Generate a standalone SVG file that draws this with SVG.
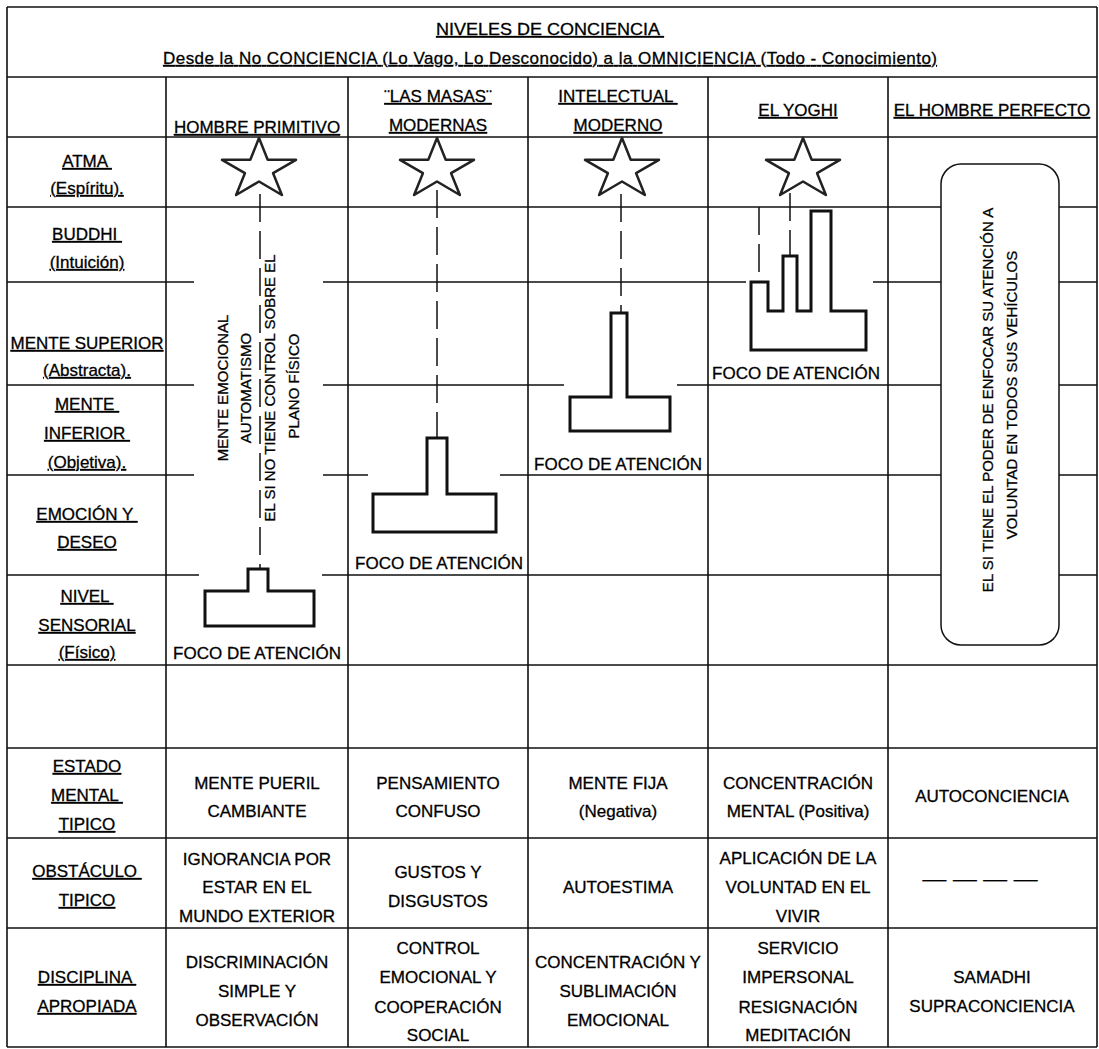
<svg xmlns="http://www.w3.org/2000/svg" xmlns:xlink="http://www.w3.org/1999/xlink" width="1099" height="1049" viewBox="0 0 1099 1049">
<style>
.t{font-family:"Liberation Sans",Arial,sans-serif;font-size:17px;fill:#000;stroke:#000;stroke-width:0.3;text-anchor:middle}
.u{text-decoration:underline}
.v{font-size:15px}
.grid{fill:none;stroke:#111;stroke-width:1.6}
.fig{fill:none;stroke:#111;stroke-width:3}
.dash{fill:none;stroke:#111;stroke-width:1.5;stroke-dasharray:28 9}
.star{fill:none;stroke:#222;stroke-width:2.5;stroke-linejoin:round}
.box{fill:#fff;stroke:#111;stroke-width:1.5}
</style>
<defs>
<path id="star" class="star" d="M37,0L45.7,21.8L74,21.8L51.1,35.2L59.9,57L37,43.5L14.1,57L22.9,35.2L0,21.8L28.3,21.8Z"/>
</defs>
<rect width="1099" height="1049" fill="#fff"/>
<g id="grid">
<path class="grid" d="M7,7H1097M7,77H1097M7,137H1097M7,207H941M1059,207H1097M7,282H194M323,282H746M873,282H941M1059,282H1097M7,385H194M323,385H564M677,385H941M1059,385H1097M7,475H194M323,475H368M500,475H941M1059,475H1097M7,575H199M322,575H941M1059,575H1097M7,665H1097M7,748H1097M7,838H1097M7,928H1097M7,1047H1097M7,7V1047M1097,7V1047M166,77V1047M348,77V1047M528,77V1047M708,77V1047M888,77V1047"/>
</g>
<g id="title">
<text class="t u" x="550" y="35" textLength="228" lengthAdjust="spacingAndGlyphs" xml:space="preserve">NIVELES DE CONCIENCIA </text>
<text class="t u" x="550" y="64" textLength="774" lengthAdjust="spacing">Desde la No CONCIENCIA (Lo Vago, Lo Desconocido) a la OMNICIENCIA (Todo - Conocimiento)</text>
</g>
<g id="header">
<text class="t u" x="257" y="133">HOMBRE PRIMITIVO</text>
<text class="t u" x="438" y="102">¨LAS MASAS¨</text>
<text class="t u" x="438" y="131">MODERNAS</text>
<text class="t u" x="618" y="102" xml:space="preserve">INTELECTUAL </text>
<text class="t u" x="618" y="131">MODERNO</text>
<text class="t u" x="798" y="116">EL YOGHI</text>
<text class="t u" x="992" y="116">EL HOMBRE PERFECTO</text>
</g>
<g id="labels">
<text class="t u" x="87" y="167" xml:space="preserve">ATMA </text>
<text class="t u" x="87" y="194">(Espíritu).</text>
<text class="t u" x="87" y="240" xml:space="preserve">BUDDHI </text>
<text class="t u" x="87" y="268">(Intuición)</text>
<text class="t u" x="87" y="349">MENTE SUPERIOR</text>
<text class="t u" x="87" y="376">(Abstracta).</text>
<text class="t u" x="87" y="410" xml:space="preserve">MENTE </text>
<text class="t u" x="87" y="439" xml:space="preserve">INFERIOR </text>
<text class="t u" x="87" y="468">(Objetiva).</text>
<text class="t u" x="87" y="520" xml:space="preserve">EMOCIÓN Y </text>
<text class="t u" x="87" y="548">DESEO</text>
<text class="t u" x="87" y="602" xml:space="preserve">NIVEL </text>
<text class="t u" x="87" y="631">SENSORIAL</text>
<text class="t u" x="87" y="658">(Físico)</text>
<text class="t u" x="87" y="772">ESTADO</text>
<text class="t u" x="87" y="801" xml:space="preserve">MENTAL </text>
<text class="t u" x="87" y="830">TIPICO</text>
<text class="t u" x="87" y="877" xml:space="preserve">OBSTÁCULO </text>
<text class="t u" x="87" y="906">TIPICO</text>
<text class="t u" x="87" y="983" xml:space="preserve">DISCIPLINA </text>
<text class="t u" x="87" y="1012">APROPIADA</text>
</g>
<g id="connectors">
<path class="dash" d="M260,194V569M437,190V438M621,194V313M759,207V282M790,193V256"/>
</g>
<g id="primitivo">
<use xlink:href="#star" x="222" y="138"/>
<path class="fig" d="M248,569H268V591H314V626H205V591H248Z"/>
<text class="t" x="257" y="659">FOCO DE ATENCIÓN</text>
<g class="t v">
<text transform="translate(227.5,388) rotate(-90)">MENTE EMOCIONAL</text>
<text transform="translate(250.5,388) rotate(-90)">AUTOMATISMO</text>
<text transform="translate(275,388) rotate(-90)">EL SI NO TIENE CONTROL SOBRE EL</text>
<text transform="translate(298.5,386) rotate(-90)">PLANO FÍSICO</text>
</g>
</g>
<g id="masas">
<use xlink:href="#star" x="400" y="138"/>
<path class="fig" d="M427,438H447V494H496V532H373V494H427Z"/>
<text class="t" x="439" y="569">FOCO DE ATENCIÓN</text>
</g>
<g id="intelectual">
<use xlink:href="#star" x="585" y="138"/>
<path class="fig" d="M611,313H627V397H670V431H570V397H611Z"/>
<text class="t" x="618" y="470">FOCO DE ATENCIÓN</text>
</g>
<g id="yoghi">
<use xlink:href="#star" x="766" y="138"/>
<path class="fig" d="M751,350V282H768V311H783V256H797V311H811V211H831V311H866V350Z"/>
<text class="t" x="796" y="379">FOCO DE ATENCIÓN</text>
</g>
<g id="perfecto">
<rect class="box" x="941" y="164" width="118" height="481" rx="20" ry="20"/>
<g class="t v">
<text transform="translate(993,400) rotate(-90)">EL SI TIENE EL PODER DE ENFOCAR SU ATENCIÓN A</text>
<text transform="translate(1017,395) rotate(-90)">VOLUNTAD EN TODOS SUS VEHÍCULOS</text>
</g>
</g>
<g id="estado">
<text class="t" x="257" y="789">MENTE PUERIL</text>
<text class="t" x="257" y="817">CAMBIANTE</text>
<text class="t" x="438" y="789">PENSAMIENTO</text>
<text class="t" x="438" y="817">CONFUSO</text>
<text class="t" x="618" y="789">MENTE FIJA</text>
<text class="t" x="618" y="817">(Negativa)</text>
<text class="t" x="798" y="789">CONCENTRACIÓN</text>
<text class="t" x="798" y="817">MENTAL (Positiva)</text>
<text class="t" x="992" y="802">AUTOCONCIENCIA</text>
</g>
<g id="obstaculo">
<text class="t" x="257" y="865">IGNORANCIA POR</text>
<text class="t" x="257" y="893">ESTAR EN EL</text>
<text class="t" x="257" y="922">MUNDO EXTERIOR</text>
<text class="t" x="438" y="878">GUSTOS Y</text>
<text class="t" x="438" y="907">DISGUSTOS</text>
<text class="t" x="618" y="893">AUTOESTIMA</text>
<text class="t" x="798" y="864">APLICACIÓN DE LA</text>
<text class="t" x="798" y="893">VOLUNTAD EN EL</text>
<text class="t" x="798" y="922">VIVIR</text>
<text class="t" x="980" y="885" textLength="115" lengthAdjust="spacingAndGlyphs">— — — —</text>
</g>
<g id="disciplina">
<text class="t" x="257" y="968">DISCRIMINACIÓN</text>
<text class="t" x="257" y="997">SIMPLE Y</text>
<text class="t" x="257" y="1026">OBSERVACIÓN</text>
<text class="t" x="438" y="954">CONTROL</text>
<text class="t" x="438" y="983">EMOCIONAL Y</text>
<text class="t" x="438" y="1013">COOPERACIÓN</text>
<text class="t" x="438" y="1041">SOCIAL</text>
<text class="t" x="618" y="968">CONCENTRACIÓN Y</text>
<text class="t" x="618" y="997">SUBLIMACIÓN</text>
<text class="t" x="618" y="1026">EMOCIONAL</text>
<text class="t" x="798" y="954">SERVICIO</text>
<text class="t" x="798" y="983">IMPERSONAL</text>
<text class="t" x="798" y="1013">RESIGNACIÓN</text>
<text class="t" x="798" y="1041">MEDITACIÓN</text>
<text class="t" x="992" y="983">SAMADHI</text>
<text class="t" x="992" y="1012">SUPRACONCIENCIA</text>
</g>
</svg>
